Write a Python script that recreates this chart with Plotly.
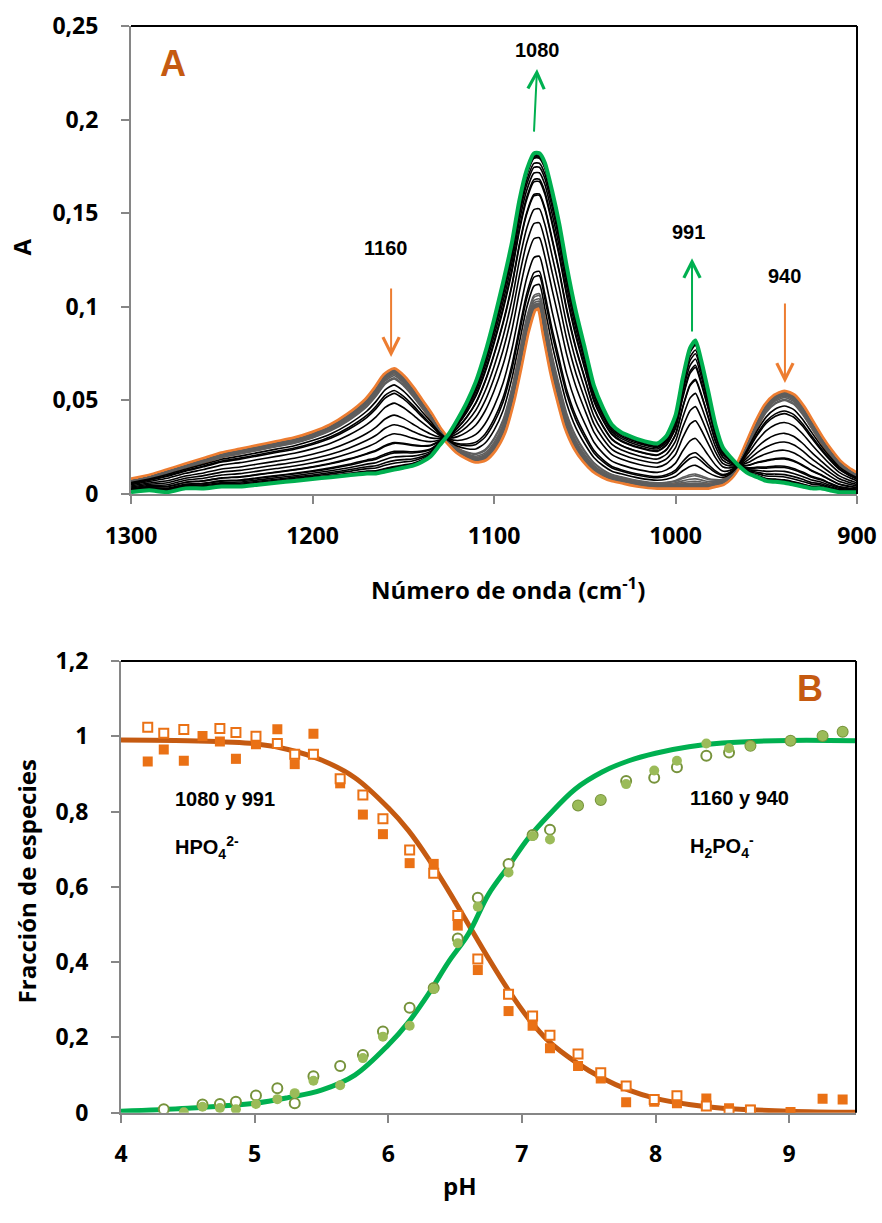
import plotly.graph_objects as go

W, H = 882, 1223

# ---------------- Panel A: spectra (end members) ----------------
wavenumber = [1300, 1290, 1280, 1270, 1260, 1250, 1240, 1230, 1220, 1210, 1200, 1190, 1180,
              1170, 1165, 1160, 1155, 1150, 1145, 1140, 1135, 1130, 1125, 1120, 1115, 1110,
              1105, 1100, 1095, 1090, 1086, 1082, 1078, 1075, 1072, 1068, 1064, 1060, 1055,
              1050, 1045, 1040, 1035, 1030, 1020, 1010, 1005, 1000, 996, 992, 989, 986, 982,
              978, 974, 970, 965, 960, 955, 950, 945, 940, 935, 930, 925, 920, 915, 910, 905, 900]

abs_initial = [0.007, 0.009, 0.012, 0.015, 0.018, 0.021, 0.023, 0.025, 0.027, 0.029, 0.032, 0.036, 0.042,
               0.050, 0.056, 0.063, 0.066, 0.062, 0.056, 0.049, 0.042, 0.034, 0.028, 0.023, 0.020, 0.018,
               0.019, 0.024, 0.033, 0.050, 0.068, 0.087, 0.099, 0.100, 0.086, 0.066, 0.050, 0.036, 0.025,
               0.018, 0.013, 0.010, 0.008, 0.007, 0.005, 0.004, 0.004, 0.004, 0.004, 0.004, 0.004, 0.004, 0.004,
               0.005, 0.006, 0.009, 0.016, 0.027, 0.038, 0.047, 0.052, 0.054, 0.052, 0.046, 0.038, 0.030,
               0.023, 0.017, 0.013, 0.010]

abs_final = [0.001, 0.002, 0.001, 0.003, 0.003, 0.004, 0.004, 0.005, 0.006, 0.007, 0.008, 0.009, 0.010,
             0.011, 0.011, 0.012, 0.013, 0.014, 0.015, 0.017, 0.020, 0.026, 0.032, 0.040, 0.049, 0.060,
             0.075, 0.093, 0.113, 0.135, 0.157, 0.173, 0.182, 0.182, 0.177, 0.162, 0.144, 0.122, 0.098,
             0.078, 0.058, 0.046, 0.037, 0.033, 0.029, 0.027, 0.031, 0.042, 0.062, 0.078, 0.082, 0.072, 0.055,
             0.037, 0.025, 0.020, 0.015, 0.011, 0.009, 0.007, 0.0065, 0.006, 0.005, 0.004, 0.003, 0.003,
             0.002, 0.001, 0.001, 0.001]

# ---------------- Panel B: fractions vs pH ----------------
ph = [4.20, 4.32, 4.47, 4.61, 4.74, 4.86, 5.01, 5.17, 5.30, 5.44, 5.64, 5.81, 5.96, 6.16, 6.34, 6.52,
      6.67, 6.90, 7.08, 7.21, 7.42, 7.59, 7.78, 7.99, 8.16, 8.38, 8.55, 8.71, 9.01, 9.25, 9.40]

frac_1080 = [0.933, 0.965, 0.935, 1.001, 0.986, 0.940, 0.979, 1.019, 0.926, 1.007, 0.875, 0.792, 0.740,
             0.663, 0.661, 0.497, 0.379, 0.270, 0.231, 0.171, 0.124, 0.091, 0.028, 0.029, 0.025, 0.038,
             0.012, 0.008, 0.002, 0.037, 0.035]
frac_991 = [1.024, 1.008, 1.018, None, 1.021, 1.010, 1.000, 0.981, 0.952, 0.952, 0.887, 0.844, 0.781,
            0.698, 0.636, 0.524, 0.408, 0.315, 0.257, 0.206, 0.156, 0.106, 0.071, 0.035, 0.045, 0.018,
            0.001, 0.007, None, None, None]
frac_1160 = [None, None, 0.001, 0.016, 0.0125, 0.009, 0.023, 0.036, 0.052, 0.085, 0.073, 0.145, 0.202,
             0.231, 0.329, 0.450, 0.547, 0.638, 0.735, 0.726, 0.816, 0.831, 0.873, 0.909, 0.935, 0.981,
             0.968, 0.974, 0.988, 1.001, 1.012]
frac_940 = [None, 0.009, None, 0.022, 0.023, 0.029, 0.046, 0.065, 0.025, 0.097, 0.124, 0.153, 0.216,
            0.279, 0.331, 0.463, 0.571, 0.661, 0.738, 0.752, 0.816, 0.831, 0.881, 0.890, 0.918, 0.948,
            0.957, 0.975, 0.988, 1.001, 1.012]

ph_fit = [4.0, 4.5, 5.0, 5.25, 5.5, 5.75, 6.0, 6.15, 6.3, 6.45, 6.6, 6.75, 6.9, 7.05, 7.2, 7.4, 7.6,
          7.8, 8.0, 8.25, 8.5, 9.0, 9.5]
fit_hpo4 = [0.990, 0.988, 0.980, 0.965, 0.937, 0.890, 0.810, 0.750, 0.675, 0.590, 0.500, 0.410, 0.325,
            0.250, 0.190, 0.135, 0.092, 0.060, 0.038, 0.022, 0.012, 0.004, 0.001]
fit_h2po4 = [0.004, 0.012, 0.025, 0.040, 0.060, 0.100, 0.180, 0.240, 0.315, 0.400, 0.475, 0.580, 0.655,
             0.730, 0.790, 0.860, 0.905, 0.935, 0.955, 0.972, 0.982, 0.989, 0.988]

ORANGE = "#ED7D31"
ORANGE_D = "#C55A11"
GREEN = "#00B050"
LGREEN = "#9BBB59"
DGREEN = "#77933C"
SQ = "#EA7115"
FONT = "Open Sans"
AFONT = "Liberation Sans, Arial, sans-serif"

fig = go.Figure()

# orange initial spectrum
fig.add_trace(go.Scatter(x=wavenumber, y=abs_initial, mode="lines", xaxis="x", yaxis="y",
                         line=dict(color=ORANGE, width=7, shape="spline", smoothing=0.6)))
# intermediate spectra: mixtures of end members weighted by measured fractions
for f in frac_1160:
    if f is None:
        continue
    f = min(max(f, 0.0), 1.0)
    yy = [o + f * (g - o) for o, g in zip(abs_initial, abs_final)]
    col = "#5E5E5E" if f < 0.12 else "#000000"
    fig.add_trace(go.Scatter(x=wavenumber, y=yy, mode="lines", xaxis="x", yaxis="y",
                             line=dict(color=col, width=1.6, shape="spline", smoothing=0.6)))
# final spectrum
fig.add_trace(go.Scatter(x=wavenumber, y=abs_final, mode="lines", xaxis="x", yaxis="y",
                         line=dict(color=GREEN, width=4, shape="spline", smoothing=0.6)))

# Panel B
fig.add_trace(go.Scatter(x=ph_fit, y=fit_hpo4, mode="lines", xaxis="x2", yaxis="y2",
                         line=dict(color=ORANGE_D, width=5, shape="spline")))
fig.add_trace(go.Scatter(x=ph_fit, y=fit_h2po4, mode="lines", xaxis="x2", yaxis="y2",
                         line=dict(color=GREEN, width=5, shape="spline")))
fig.add_trace(go.Scatter(x=ph, y=frac_1080, mode="markers", xaxis="x2", yaxis="y2",
                         marker=dict(symbol="square", size=10, color=SQ, line=dict(width=0))))
fig.add_trace(go.Scatter(x=ph, y=frac_991, mode="markers", xaxis="x2", yaxis="y2",
                         marker=dict(symbol="square", size=9, color="white", line=dict(width=2, color=SQ))))
fig.add_trace(go.Scatter(x=ph, y=frac_940, mode="markers", xaxis="x2", yaxis="y2",
                         marker=dict(symbol="circle", size=10, color="white", line=dict(width=2, color=DGREEN))))
fig.add_trace(go.Scatter(x=ph, y=frac_1160, mode="markers", xaxis="x2", yaxis="y2",
                         marker=dict(symbol="circle", size=10, color=LGREEN, line=dict(width=0))))

tickfont = dict(family=FONT, size=23, color="black", weight="bold")
axcommon = dict(showgrid=False, zeroline=False, showline=True, linecolor="#868686", linewidth=2,
                ticks="outside", ticklen=8, tickwidth=2, tickcolor="#868686", tickfont=tickfont,
                automargin=False)

a_yt = [0, 0.05, 0.1, 0.15, 0.2, 0.25]
a_ytl = ["0", "0,05", "0,1", "0,15", "0,2", "0,25"]
a_xt = [1300, 1200, 1100, 1000, 900]
b_xt = [4, 5, 6, 7, 8, 9]
b_yt = [0, 0.2, 0.4, 0.6, 0.8, 1.0, 1.2]
b_ytl = ["0", "0,2", "0,4", "0,6", "0,8", "1", "1,2"]

fig.update_layout(
    width=W, height=H, margin=dict(l=0, r=0, t=0, b=0),
    paper_bgcolor="white", plot_bgcolor="white", showlegend=False,
    xaxis=dict(domain=[131 / W, 857 / W], range=[1300, 900], tickvals=a_xt,
               ticktext=[str(v) for v in a_xt], anchor="y", ticklabelstandoff=12, **axcommon),
    yaxis=dict(domain=[1 - 494 / H, 1 - 26 / H], range=[0, 0.25], tickvals=a_yt, ticktext=a_ytl,
               anchor="x", ticklabelstandoff=18, **axcommon),
    xaxis2=dict(domain=[121 / W, 856 / W], range=[4, 9.5], tickvals=b_xt,
                ticktext=[str(v) for v in b_xt], anchor="y2", ticklabelstandoff=12, **axcommon),
    yaxis2=dict(domain=[1 - 1112.7 / H, 1 - 661 / H], range=[0, 1.2], tickvals=b_yt, ticktext=b_ytl,
                anchor="x2", ticklabelstandoff=18, **axcommon),
)

shapes = []
for xr, yr in (("x", "y"), ("x2", "y2")):
    shapes.append(dict(type="line", xref=xr + " domain", yref=yr + " domain", x0=0, x1=1, y0=1, y1=1,
                       line=dict(color="black", width=2), layer="above"))
    shapes.append(dict(type="line", xref=xr + " domain", yref=yr + " domain", x0=1, x1=1, y0=0, y1=1,
                       line=dict(color="black", width=2), layer="above"))
fig.update_layout(shapes=shapes)

ann = []
def txt(x, y, s, size, color="black", xref="x", yref="y", xanchor="center", family=AFONT, angle=0):
    ann.append(dict(x=x, y=y, xref=xref, yref=yref, text=s, showarrow=False, xanchor=xanchor,
                    yanchor="middle", textangle=angle,
                    font=dict(family=family, size=size, color=color, weight="bold")))

def arrow(x, y, ax, ay, color):
    ann.append(dict(x=x, y=y, ax=ax, ay=ay, xref="x", yref="y", axref="x", ayref="y", text="",
                    showarrow=True, arrowhead=5, arrowsize=1.6, arrowwidth=2, arrowcolor=color))

txt(1277, 0.2302, "A", 36, ORANGE_D)
txt(1076.3, 0.2372, "1080", 20)
txt(1160, 0.1314, "1160", 20)
txt(992.6, 0.140, "991", 20)
txt(939.7, 0.1165, "940", 20)
arrow(1076.3, 0.227, 1078, 0.1928, GREEN)
arrow(1156.7, 0.0732, 1156.7, 0.1106, ORANGE)
arrow(990.9, 0.126, 990.9, 0.086, GREEN)
arrow(939.7, 0.0593, 939.7, 0.1026, ORANGE)

txt(9.157, 1.128, "B", 36, ORANGE_D, "x2", "y2")
txt(4.387, 0.833, "1080 y 991", 20, xref="x2", yref="y2", xanchor="left")
txt(4.387, 0.704, "HPO<sub>4</sub><sup>2-</sup>", 20, xref="x2", yref="y2", xanchor="left")
txt(8.244, 0.836, "1160 y 940", 20, xref="x2", yref="y2", xanchor="left")
txt(8.244, 0.707, "H<sub>2</sub>PO<sub>4</sub><sup>-</sup>", 20, xref="x2", yref="y2", xanchor="left")

txt(21.7 / W, 1 - 246.7 / H, "A", 24, xref="paper", yref="paper", family=FONT, angle=-90)
txt(508 / W, 1 - 588 / H, "Número de onda (cm<sup>-1</sup>)", 24, xref="paper", yref="paper", family=FONT)
txt(26.7 / W, 1 - 881.7 / H, "Fracción de especies", 24, xref="paper", yref="paper", family=FONT, angle=-90)
txt(460 / W, 1 - 1185 / H, "pH", 24, xref="paper", yref="paper", family=FONT)

fig.update_layout(annotations=ann)
fig.write_html("out.html", config={"displayModeBar": False},
               post_script="document.body.style.margin='0px';")
